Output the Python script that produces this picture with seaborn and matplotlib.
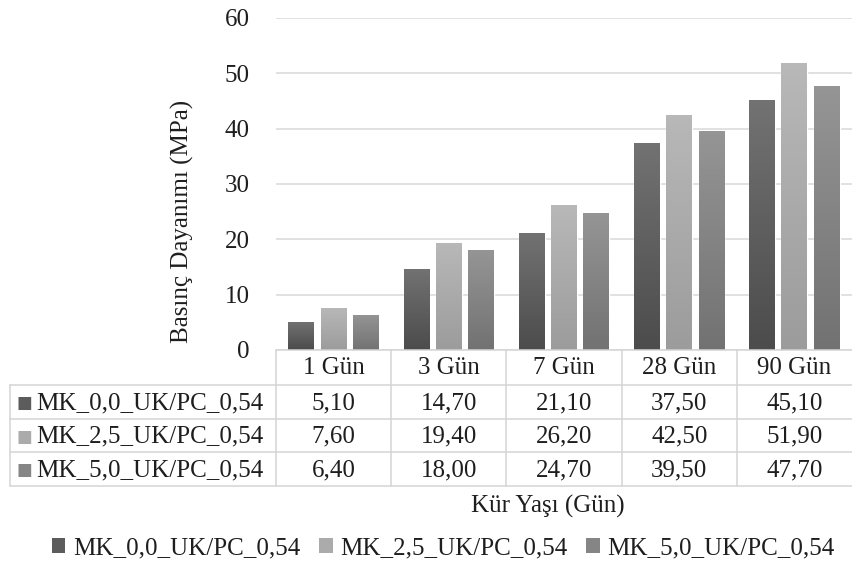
import numpy as np
import pandas as pd
import matplotlib
matplotlib.use("Agg")
import matplotlib.pyplot as plt
import seaborn as sns
from matplotlib.lines import Line2D
from matplotlib.patches import Patch
from matplotlib.colors import LinearSegmentedColormap

categories = ["1 Gün", "3 Gün", "7 Gün", "28 Gün", "90 Gün"]
series_names = ["MK_0,0_UK/PC_0,54", "MK_2,5_UK/PC_0,54", "MK_5,0_UK/PC_0,54"]
mk00 = [5.10, 14.70, 21.10, 37.50, 45.10]
mk25 = [7.60, 19.40, 26.20, 42.50, 51.90]
mk50 = [6.40, 18.00, 24.70, 39.50, 47.70]
yticks = [0, 10, 20, 30, 40, 50, 60]

colors = ["#5c5c5c", "#ababab", "#858585"]
tops = ["#727272", "#b8b8b8", "#959595"]
bottoms = ["#4c4c4c", "#9c9c9c", "#727272"]

series_vals = [mk00, mk25, mk50]
df = pd.DataFrame({
    "Gün": [c for s in series_vals for c in categories],
    "val": [v for s in series_vals for v in s],
    "seri": [n for n, s in zip(series_names, series_vals) for _ in s],
})

sns.set_theme(style="white")
plt.rcParams["font.family"] = ["Liberation Serif", "DejaVu Serif"]
TXT = "#1e1e1e"
FS = 18

W, H = 852, 567
fig = plt.figure(figsize=(W / 100, H / 100), dpi=100)

def fx(x):
    return x / W

def fy(y):
    return 1 - y / H

L, R, T, B = 276, 852, 18, 350
ax = fig.add_axes([fx(L), fy(B), (R - L) / W, (B - T) / H])
sns.barplot(data=df, x="Gün", y="val", hue="seri", palette=colors,
            width=0.84, gap=0.2, ax=ax, legend=False, saturation=1)
ax.set_xlim(-0.5, len(categories) - 0.5)
ax.set_ylim(0, 60)
ax.set_yticks(yticks)
ax.set_yticklabels([str(t) for t in yticks], fontsize=FS, color=TXT)
ax.tick_params(axis="y", length=0, pad=19)
ax.set_xticks([])
ax.set_xlabel("")
ax.set_ylabel("")
ax.grid(axis="y", color="#dcdcdc", linewidth=1.2)
ax.set_axisbelow(True)
for s in ax.spines.values():
    s.set_visible(False)

# gradient fill for bars
for i, cont in enumerate(ax.containers):
    for p in cont.patches:
        x0, y0 = p.get_x(), p.get_y()
        w, h = p.get_width(), p.get_height()
        cmap = LinearSegmentedColormap.from_list("g", [bottoms[i], tops[i]])
        grad = np.linspace(0, 1, 64).reshape(-1, 1)
        im = ax.imshow(grad, extent=[x0, x0 + w, y0, y0 + h], origin="lower",
                       aspect="auto", cmap=cmap, zorder=2.5)
        im.set_clip_path(p)
ax.set_xlim(-0.5, len(categories) - 0.5)
ax.set_ylim(0, 60)

# y label
fig.text(fx(182), fy(221), "Basınç Dayanımı (MPa)", rotation=90, ha="center",
         va="center", fontsize=FS, color=TXT)

# data table
LINE = "#d4d4d4"
rows_y = [385, 419, 452, 486]
col_w = (R - L) / len(categories)
bounds = [L + i * col_w for i in range(len(categories) + 1)]

def hline(x0, x1, y):
    fig.add_artist(Line2D([fx(x0), fx(x1)], [fy(y), fy(y)], color=LINE, lw=1.1))

def vline(x, y0, y1):
    fig.add_artist(Line2D([fx(x), fx(x)], [fy(y0), fy(y1)], color=LINE, lw=1.1))

hline(L, R, B)
for y in rows_y:
    hline(10, R, y)
for xb in bounds[:-1]:
    vline(xb, B, rows_y[-1])
vline(10, rows_y[0], rows_y[-1])

for i, c in enumerate(categories):
    cx = (bounds[i] + bounds[i + 1]) / 2
    fig.text(fx(cx), fy((B + rows_y[0]) / 2 + 1), c, ha="center", va="center",
             fontsize=FS, color=TXT)

for r, (name, vals) in enumerate(zip(series_names, series_vals)):
    cy = (rows_y[r] + rows_y[r + 1]) / 2 + 1
    fig.text(fx(17), fy(cy), "■", ha="left", va="center", fontsize=12,
             color=colors[r], family="DejaVu Sans")
    fig.text(fx(36), fy(cy), name, ha="left", va="center", fontsize=FS, color=TXT)
    for i, v in enumerate(vals):
        cx = (bounds[i] + bounds[i + 1]) / 2
        fig.text(fx(cx), fy(cy), f"{v:.2f}".replace(".", ","), ha="center",
                 va="center", fontsize=FS, color=TXT)

# x label
fig.text(fx(548), fy(506), "Kür Yaşı (Gün)", ha="center", va="center",
         fontsize=FS, color=TXT)

# legend
handles = [Patch(facecolor=c, edgecolor="none") for c in colors]
fig.legend(handles, series_names, loc="center", bbox_to_anchor=(fx(443), fy(548)),
           ncol=3, frameon=False, fontsize=FS, handlelength=0.55, handleheight=0.55,
           handletextpad=0.3, columnspacing=0.75, labelcolor=TXT)

fig.savefig("out.png", dpi=100, facecolor="white")
